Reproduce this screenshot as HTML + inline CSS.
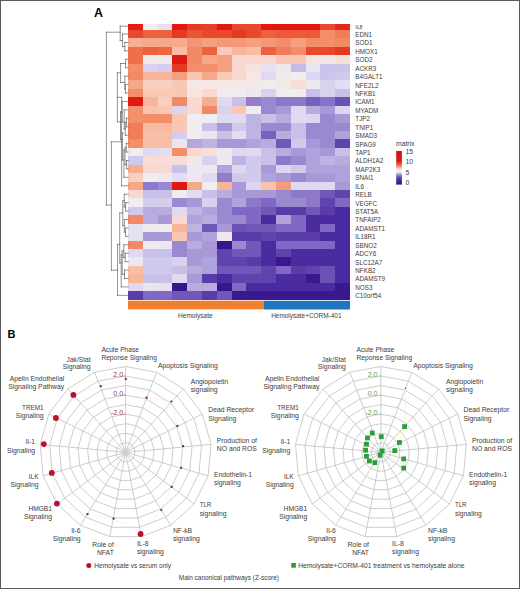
<!DOCTYPE html>
<html><head><meta charset="utf-8"><title>Figure</title>
<style>
html,body{margin:0;padding:0;background:#fff;}
body{width:520px;height:589px;overflow:hidden;font-family:"Liberation Sans", sans-serif;}
#fig{position:relative;width:520px;height:589px;box-sizing:border-box;border:1px solid #5a5a5a;overflow:hidden;}
svg{position:absolute;left:-1px;top:-1px;}
svg text{font-family:"Liberation Sans", sans-serif;}
</style></head>
<body><div id="fig"><svg width="520" height="589" viewBox="0 0 520 589"><g shape-rendering="crispEdges"><rect x="128.00" y="24.00" width="15.10" height="6.10" fill="#e11f14"/><rect x="142.80" y="24.00" width="15.10" height="6.10" fill="#f0ecf0"/><rect x="157.60" y="24.00" width="15.10" height="6.10" fill="#e6e1f0"/><rect x="172.40" y="24.00" width="15.10" height="6.10" fill="#e01810"/><rect x="187.20" y="24.00" width="15.10" height="6.10" fill="#e53a22"/><rect x="202.00" y="24.00" width="15.10" height="6.10" fill="#e63f26"/><rect x="216.80" y="24.00" width="15.10" height="6.10" fill="#e01810"/><rect x="231.60" y="24.00" width="15.10" height="6.10" fill="#e8482c"/><rect x="246.40" y="24.00" width="15.10" height="6.10" fill="#e8482c"/><rect x="261.20" y="24.00" width="15.10" height="6.10" fill="#e01810"/><rect x="276.00" y="24.00" width="15.10" height="6.10" fill="#e01810"/><rect x="290.80" y="24.00" width="15.10" height="6.10" fill="#e01810"/><rect x="305.60" y="24.00" width="15.10" height="6.10" fill="#e01810"/><rect x="320.40" y="24.00" width="15.10" height="6.10" fill="#e8482c"/><rect x="335.20" y="24.00" width="15.10" height="6.10" fill="#e22919"/><rect x="128.00" y="29.80" width="15.10" height="8.73" fill="#e8482c"/><rect x="142.80" y="29.80" width="15.10" height="8.73" fill="#ec6240"/><rect x="157.60" y="29.80" width="15.10" height="8.73" fill="#ec6240"/><rect x="172.40" y="29.80" width="15.10" height="8.73" fill="#e53a22"/><rect x="187.20" y="29.80" width="15.10" height="8.73" fill="#ea5535"/><rect x="202.00" y="29.80" width="15.10" height="8.73" fill="#e8482c"/><rect x="216.80" y="29.80" width="15.10" height="8.73" fill="#e8482c"/><rect x="231.60" y="29.80" width="15.10" height="8.73" fill="#e53a22"/><rect x="246.40" y="29.80" width="15.10" height="8.73" fill="#e8482c"/><rect x="261.20" y="29.80" width="15.10" height="8.73" fill="#ec6240"/><rect x="276.00" y="29.80" width="15.10" height="8.73" fill="#eb5a39"/><rect x="290.80" y="29.80" width="15.10" height="8.73" fill="#eb5a39"/><rect x="305.60" y="29.80" width="15.10" height="8.73" fill="#eb5a39"/><rect x="320.40" y="29.80" width="15.10" height="8.73" fill="#f38d6a"/><rect x="335.20" y="29.80" width="15.10" height="8.73" fill="#f07c58"/><rect x="128.00" y="38.23" width="15.10" height="8.73" fill="#f7b093"/><rect x="142.80" y="38.23" width="15.10" height="8.73" fill="#f6a88a"/><rect x="157.60" y="38.23" width="15.10" height="8.73" fill="#f6a88a"/><rect x="172.40" y="38.23" width="15.10" height="8.73" fill="#f6ab8d"/><rect x="187.20" y="38.23" width="15.10" height="8.73" fill="#f49472"/><rect x="202.00" y="38.23" width="15.10" height="8.73" fill="#f59f80"/><rect x="216.80" y="38.23" width="15.10" height="8.73" fill="#f49878"/><rect x="231.60" y="38.23" width="15.10" height="8.73" fill="#f49878"/><rect x="246.40" y="38.23" width="15.10" height="8.73" fill="#f59f80"/><rect x="261.20" y="38.23" width="15.10" height="8.73" fill="#f49878"/><rect x="276.00" y="38.23" width="15.10" height="8.73" fill="#f38d6a"/><rect x="290.80" y="38.23" width="15.10" height="8.73" fill="#f59f80"/><rect x="305.60" y="38.23" width="15.10" height="8.73" fill="#f38d6a"/><rect x="320.40" y="38.23" width="15.10" height="8.73" fill="#f38d6a"/><rect x="335.20" y="38.23" width="15.10" height="8.73" fill="#f28965"/><rect x="128.00" y="46.66" width="15.10" height="8.73" fill="#ef6f4b"/><rect x="142.80" y="46.66" width="15.10" height="8.73" fill="#ec6240"/><rect x="157.60" y="46.66" width="15.10" height="8.73" fill="#ee6744"/><rect x="172.40" y="46.66" width="15.10" height="8.73" fill="#f8bca3"/><rect x="187.20" y="46.66" width="15.10" height="8.73" fill="#f28965"/><rect x="202.00" y="46.66" width="15.10" height="8.73" fill="#ec6240"/><rect x="216.80" y="46.66" width="15.10" height="8.73" fill="#f9cab9"/><rect x="231.60" y="46.66" width="15.10" height="8.73" fill="#f7b599"/><rect x="246.40" y="46.66" width="15.10" height="8.73" fill="#f8bca3"/><rect x="261.20" y="46.66" width="15.10" height="8.73" fill="#ec6240"/><rect x="276.00" y="46.66" width="15.10" height="8.73" fill="#f07c58"/><rect x="290.80" y="46.66" width="15.10" height="8.73" fill="#f38d6a"/><rect x="305.60" y="46.66" width="15.10" height="8.73" fill="#e8482c"/><rect x="320.40" y="46.66" width="15.10" height="8.73" fill="#e8482c"/><rect x="335.20" y="46.66" width="15.10" height="8.73" fill="#e53a22"/><rect x="128.00" y="55.09" width="15.10" height="8.73" fill="#ef6f4b"/><rect x="142.80" y="55.09" width="15.10" height="8.73" fill="#f2e9ea"/><rect x="157.60" y="55.09" width="15.10" height="8.73" fill="#f1eaec"/><rect x="172.40" y="55.09" width="15.10" height="8.73" fill="#e01810"/><rect x="187.20" y="55.09" width="15.10" height="8.73" fill="#f28965"/><rect x="202.00" y="55.09" width="15.10" height="8.73" fill="#f6a88a"/><rect x="216.80" y="55.09" width="15.10" height="8.73" fill="#f59f80"/><rect x="231.60" y="55.09" width="15.10" height="8.73" fill="#f8d8d0"/><rect x="246.40" y="55.09" width="15.10" height="8.73" fill="#f8d8d0"/><rect x="261.20" y="55.09" width="15.10" height="8.73" fill="#f8d8d0"/><rect x="276.00" y="55.09" width="15.10" height="8.73" fill="#f9c7b3"/><rect x="290.80" y="55.09" width="15.10" height="8.73" fill="#f9c7b3"/><rect x="305.60" y="55.09" width="15.10" height="8.73" fill="#f6e4e0"/><rect x="320.40" y="55.09" width="15.10" height="8.73" fill="#f4e6e4"/><rect x="335.20" y="55.09" width="15.10" height="8.73" fill="#f7e0da"/><rect x="128.00" y="63.52" width="15.10" height="8.73" fill="#f38d6a"/><rect x="142.80" y="63.52" width="15.10" height="8.73" fill="#d8d2ef"/><rect x="157.60" y="63.52" width="15.10" height="8.73" fill="#d4cded"/><rect x="172.40" y="63.52" width="15.10" height="8.73" fill="#e53a22"/><rect x="187.20" y="63.52" width="15.10" height="8.73" fill="#f38d6a"/><rect x="202.00" y="63.52" width="15.10" height="8.73" fill="#f38d6a"/><rect x="216.80" y="63.52" width="15.10" height="8.73" fill="#f59f80"/><rect x="231.60" y="63.52" width="15.10" height="8.73" fill="#f8d8d0"/><rect x="246.40" y="63.52" width="15.10" height="8.73" fill="#f7e2dc"/><rect x="261.20" y="63.52" width="15.10" height="8.73" fill="#e6e1f0"/><rect x="276.00" y="63.52" width="15.10" height="8.73" fill="#ede8f0"/><rect x="290.80" y="63.52" width="15.10" height="8.73" fill="#c5bce6"/><rect x="305.60" y="63.52" width="15.10" height="8.73" fill="#e9e5f0"/><rect x="320.40" y="63.52" width="15.10" height="8.73" fill="#ccc4ea"/><rect x="335.20" y="63.52" width="15.10" height="8.73" fill="#ccc4ea"/><rect x="128.00" y="71.95" width="15.10" height="8.73" fill="#f28965"/><rect x="142.80" y="71.95" width="15.10" height="8.73" fill="#f7b599"/><rect x="157.60" y="71.95" width="15.10" height="8.73" fill="#f7b599"/><rect x="172.40" y="71.95" width="15.10" height="8.73" fill="#f59f80"/><rect x="187.20" y="71.95" width="15.10" height="8.73" fill="#f9c7b3"/><rect x="202.00" y="71.95" width="15.10" height="8.73" fill="#f6a88a"/><rect x="216.80" y="71.95" width="15.10" height="8.73" fill="#f9cab9"/><rect x="231.60" y="71.95" width="15.10" height="8.73" fill="#f8d8d0"/><rect x="246.40" y="71.95" width="15.10" height="8.73" fill="#f4e7e6"/><rect x="261.20" y="71.95" width="15.10" height="8.73" fill="#dfdaf1"/><rect x="276.00" y="71.95" width="15.10" height="8.73" fill="#f1eaec"/><rect x="290.80" y="71.95" width="15.10" height="8.73" fill="#f0ecf0"/><rect x="305.60" y="71.95" width="15.10" height="8.73" fill="#dcd6f1"/><rect x="320.40" y="71.95" width="15.10" height="8.73" fill="#ccc4ea"/><rect x="335.20" y="71.95" width="15.10" height="8.73" fill="#d0c9ec"/><rect x="128.00" y="80.38" width="15.10" height="8.73" fill="#f6a88a"/><rect x="142.80" y="80.38" width="15.10" height="8.73" fill="#f8d0c2"/><rect x="157.60" y="80.38" width="15.10" height="8.73" fill="#f8d0c2"/><rect x="172.40" y="80.38" width="15.10" height="8.73" fill="#f9c7b3"/><rect x="187.20" y="80.38" width="15.10" height="8.73" fill="#f4e7e6"/><rect x="202.00" y="80.38" width="15.10" height="8.73" fill="#f4e7e6"/><rect x="216.80" y="80.38" width="15.10" height="8.73" fill="#f4e7e6"/><rect x="231.60" y="80.38" width="15.10" height="8.73" fill="#f4e7e6"/><rect x="246.40" y="80.38" width="15.10" height="8.73" fill="#f2e9ea"/><rect x="261.20" y="80.38" width="15.10" height="8.73" fill="#f1ebee"/><rect x="276.00" y="80.38" width="15.10" height="8.73" fill="#f3e8e8"/><rect x="290.80" y="80.38" width="15.10" height="8.73" fill="#f8ddd6"/><rect x="305.60" y="80.38" width="15.10" height="8.73" fill="#ede8f0"/><rect x="320.40" y="80.38" width="15.10" height="8.73" fill="#d8d2ef"/><rect x="335.20" y="80.38" width="15.10" height="8.73" fill="#e3ddf1"/><rect x="128.00" y="88.81" width="15.10" height="8.73" fill="#f38d6a"/><rect x="142.80" y="88.81" width="15.10" height="8.73" fill="#f9c7b3"/><rect x="157.60" y="88.81" width="15.10" height="8.73" fill="#f9c7b3"/><rect x="172.40" y="88.81" width="15.10" height="8.73" fill="#f9c7b3"/><rect x="187.20" y="88.81" width="15.10" height="8.73" fill="#f6e4e0"/><rect x="202.00" y="88.81" width="15.10" height="8.73" fill="#f8d8d0"/><rect x="216.80" y="88.81" width="15.10" height="8.73" fill="#f0ecf0"/><rect x="231.60" y="88.81" width="15.10" height="8.73" fill="#f0ecf0"/><rect x="246.40" y="88.81" width="15.10" height="8.73" fill="#ede8f0"/><rect x="261.20" y="88.81" width="15.10" height="8.73" fill="#d8d2ef"/><rect x="276.00" y="88.81" width="15.10" height="8.73" fill="#f0ecf0"/><rect x="290.80" y="88.81" width="15.10" height="8.73" fill="#f0ecf0"/><rect x="305.60" y="88.81" width="15.10" height="8.73" fill="#c8c0e8"/><rect x="320.40" y="88.81" width="15.10" height="8.73" fill="#d8d2ef"/><rect x="335.20" y="88.81" width="15.10" height="8.73" fill="#c8c0e8"/><rect x="128.00" y="97.24" width="15.10" height="8.73" fill="#e01810"/><rect x="142.80" y="97.24" width="15.10" height="8.73" fill="#f7b599"/><rect x="157.60" y="97.24" width="15.10" height="8.73" fill="#f8d0c2"/><rect x="172.40" y="97.24" width="15.10" height="8.73" fill="#f28965"/><rect x="187.20" y="97.24" width="15.10" height="8.73" fill="#f8dad2"/><rect x="202.00" y="97.24" width="15.10" height="8.73" fill="#f7ad8f"/><rect x="216.80" y="97.24" width="15.10" height="8.73" fill="#dfdaf1"/><rect x="231.60" y="97.24" width="15.10" height="8.73" fill="#c8c0e8"/><rect x="246.40" y="97.24" width="15.10" height="8.73" fill="#917dcc"/><rect x="261.20" y="97.24" width="15.10" height="8.73" fill="#9a88d0"/><rect x="276.00" y="97.24" width="15.10" height="8.73" fill="#8d78ca"/><rect x="290.80" y="97.24" width="15.10" height="8.73" fill="#8d78ca"/><rect x="305.60" y="97.24" width="15.10" height="8.73" fill="#7860be"/><rect x="320.40" y="97.24" width="15.10" height="8.73" fill="#8973c8"/><rect x="335.20" y="97.24" width="15.10" height="8.73" fill="#6a51b4"/><rect x="128.00" y="105.67" width="15.10" height="8.73" fill="#f3906d"/><rect x="142.80" y="105.67" width="15.10" height="8.73" fill="#f9c2ad"/><rect x="157.60" y="105.67" width="15.10" height="8.73" fill="#f9c7b3"/><rect x="172.40" y="105.67" width="15.10" height="8.73" fill="#dcd6f1"/><rect x="187.20" y="105.67" width="15.10" height="8.73" fill="#f8d8d0"/><rect x="202.00" y="105.67" width="15.10" height="8.73" fill="#f28965"/><rect x="216.80" y="105.67" width="15.10" height="8.73" fill="#d8d2ef"/><rect x="231.60" y="105.67" width="15.10" height="8.73" fill="#f9c7b3"/><rect x="246.40" y="105.67" width="15.10" height="8.73" fill="#f0ecf0"/><rect x="261.20" y="105.67" width="15.10" height="8.73" fill="#9a88d0"/><rect x="276.00" y="105.67" width="15.10" height="8.73" fill="#a898d8"/><rect x="290.80" y="105.67" width="15.10" height="8.73" fill="#dfdaf1"/><rect x="305.60" y="105.67" width="15.10" height="8.73" fill="#b8acdf"/><rect x="320.40" y="105.67" width="15.10" height="8.73" fill="#a898d8"/><rect x="335.20" y="105.67" width="15.10" height="8.73" fill="#dcd6f1"/><rect x="128.00" y="114.10" width="15.10" height="8.73" fill="#f3906d"/><rect x="142.80" y="114.10" width="15.10" height="8.73" fill="#f38d6a"/><rect x="157.60" y="114.10" width="15.10" height="8.73" fill="#f38d6a"/><rect x="172.40" y="114.10" width="15.10" height="8.73" fill="#f9c7b3"/><rect x="187.20" y="114.10" width="15.10" height="8.73" fill="#f0ecf0"/><rect x="202.00" y="114.10" width="15.10" height="8.73" fill="#f0ecf0"/><rect x="216.80" y="114.10" width="15.10" height="8.73" fill="#dfdaf1"/><rect x="231.60" y="114.10" width="15.10" height="8.73" fill="#dfdaf1"/><rect x="246.40" y="114.10" width="15.10" height="8.73" fill="#beb4e3"/><rect x="261.20" y="114.10" width="15.10" height="8.73" fill="#c8c0e8"/><rect x="276.00" y="114.10" width="15.10" height="8.73" fill="#b8acdf"/><rect x="290.80" y="114.10" width="15.10" height="8.73" fill="#dfdaf1"/><rect x="305.60" y="114.10" width="15.10" height="8.73" fill="#dcd6f1"/><rect x="320.40" y="114.10" width="15.10" height="8.73" fill="#9a88d0"/><rect x="335.20" y="114.10" width="15.10" height="8.73" fill="#a898d8"/><rect x="128.00" y="122.53" width="15.10" height="8.73" fill="#f07c58"/><rect x="142.80" y="122.53" width="15.10" height="8.73" fill="#f8b9a0"/><rect x="157.60" y="122.53" width="15.10" height="8.73" fill="#f8b9a0"/><rect x="172.40" y="122.53" width="15.10" height="8.73" fill="#f9c7b3"/><rect x="187.20" y="122.53" width="15.10" height="8.73" fill="#f0ecf0"/><rect x="202.00" y="122.53" width="15.10" height="8.73" fill="#c8c0e8"/><rect x="216.80" y="122.53" width="15.10" height="8.73" fill="#a898d8"/><rect x="231.60" y="122.53" width="15.10" height="8.73" fill="#d0c9ec"/><rect x="246.40" y="122.53" width="15.10" height="8.73" fill="#beb4e3"/><rect x="261.20" y="122.53" width="15.10" height="8.73" fill="#9a88d0"/><rect x="276.00" y="122.53" width="15.10" height="8.73" fill="#9a88d0"/><rect x="290.80" y="122.53" width="15.10" height="8.73" fill="#c8c0e8"/><rect x="305.60" y="122.53" width="15.10" height="8.73" fill="#9a88d0"/><rect x="320.40" y="122.53" width="15.10" height="8.73" fill="#9a88d0"/><rect x="335.20" y="122.53" width="15.10" height="8.73" fill="#9a88d0"/><rect x="128.00" y="130.96" width="15.10" height="8.73" fill="#f07c58"/><rect x="142.80" y="130.96" width="15.10" height="8.73" fill="#f8bea6"/><rect x="157.60" y="130.96" width="15.10" height="8.73" fill="#f8bea6"/><rect x="172.40" y="130.96" width="15.10" height="8.73" fill="#d4cded"/><rect x="187.20" y="130.96" width="15.10" height="8.73" fill="#f0ecf0"/><rect x="202.00" y="130.96" width="15.10" height="8.73" fill="#e9e5f0"/><rect x="216.80" y="130.96" width="15.10" height="8.73" fill="#c8c0e8"/><rect x="231.60" y="130.96" width="15.10" height="8.73" fill="#e3ddf1"/><rect x="246.40" y="130.96" width="15.10" height="8.73" fill="#beb4e3"/><rect x="261.20" y="130.96" width="15.10" height="8.73" fill="#7860be"/><rect x="276.00" y="130.96" width="15.10" height="8.73" fill="#b8acdf"/><rect x="290.80" y="130.96" width="15.10" height="8.73" fill="#c8c0e8"/><rect x="305.60" y="130.96" width="15.10" height="8.73" fill="#9a88d0"/><rect x="320.40" y="130.96" width="15.10" height="8.73" fill="#9a88d0"/><rect x="335.20" y="130.96" width="15.10" height="8.73" fill="#b0a2dc"/><rect x="128.00" y="139.39" width="15.10" height="8.73" fill="#f38d6a"/><rect x="142.80" y="139.39" width="15.10" height="8.73" fill="#f8bea6"/><rect x="157.60" y="139.39" width="15.10" height="8.73" fill="#f8bea6"/><rect x="172.40" y="139.39" width="15.10" height="8.73" fill="#e9e5f0"/><rect x="187.20" y="139.39" width="15.10" height="8.73" fill="#b4a7dd"/><rect x="202.00" y="139.39" width="15.10" height="8.73" fill="#beb4e3"/><rect x="216.80" y="139.39" width="15.10" height="8.73" fill="#a898d8"/><rect x="231.60" y="139.39" width="15.10" height="8.73" fill="#a898d8"/><rect x="246.40" y="139.39" width="15.10" height="8.73" fill="#b0a2dc"/><rect x="261.20" y="139.39" width="15.10" height="8.73" fill="#b8acdf"/><rect x="276.00" y="139.39" width="15.10" height="8.73" fill="#7058b8"/><rect x="290.80" y="139.39" width="15.10" height="8.73" fill="#d0c9ec"/><rect x="305.60" y="139.39" width="15.10" height="8.73" fill="#a898d8"/><rect x="320.40" y="139.39" width="15.10" height="8.73" fill="#9a88d0"/><rect x="335.20" y="139.39" width="15.10" height="8.73" fill="#6043ac"/><rect x="128.00" y="147.82" width="15.10" height="8.73" fill="#f0ecf0"/><rect x="142.80" y="147.82" width="15.10" height="8.73" fill="#dfdaf1"/><rect x="157.60" y="147.82" width="15.10" height="8.73" fill="#e3ddf1"/><rect x="172.40" y="147.82" width="15.10" height="8.73" fill="#f38d6a"/><rect x="187.20" y="147.82" width="15.10" height="8.73" fill="#f8d8d0"/><rect x="202.00" y="147.82" width="15.10" height="8.73" fill="#f7e0da"/><rect x="216.80" y="147.82" width="15.10" height="8.73" fill="#ede8f0"/><rect x="231.60" y="147.82" width="15.10" height="8.73" fill="#dfdaf1"/><rect x="246.40" y="147.82" width="15.10" height="8.73" fill="#dfdaf1"/><rect x="261.20" y="147.82" width="15.10" height="8.73" fill="#c8c0e8"/><rect x="276.00" y="147.82" width="15.10" height="8.73" fill="#b8acdf"/><rect x="290.80" y="147.82" width="15.10" height="8.73" fill="#a898d8"/><rect x="305.60" y="147.82" width="15.10" height="8.73" fill="#b0a2dc"/><rect x="320.40" y="147.82" width="15.10" height="8.73" fill="#a898d8"/><rect x="335.20" y="147.82" width="15.10" height="8.73" fill="#c8c0e8"/><rect x="128.00" y="156.25" width="15.10" height="8.73" fill="#d0c9ec"/><rect x="142.80" y="156.25" width="15.10" height="8.73" fill="#f8ddd6"/><rect x="157.60" y="156.25" width="15.10" height="8.73" fill="#f8ddd6"/><rect x="172.40" y="156.25" width="15.10" height="8.73" fill="#f8ddd6"/><rect x="187.20" y="156.25" width="15.10" height="8.73" fill="#f3e8e8"/><rect x="202.00" y="156.25" width="15.10" height="8.73" fill="#d8d2ef"/><rect x="216.80" y="156.25" width="15.10" height="8.73" fill="#ede8f0"/><rect x="231.60" y="156.25" width="15.10" height="8.73" fill="#beb4e3"/><rect x="246.40" y="156.25" width="15.10" height="8.73" fill="#d0c9ec"/><rect x="261.20" y="156.25" width="15.10" height="8.73" fill="#c8c0e8"/><rect x="276.00" y="156.25" width="15.10" height="8.73" fill="#8d78ca"/><rect x="290.80" y="156.25" width="15.10" height="8.73" fill="#9a88d0"/><rect x="305.60" y="156.25" width="15.10" height="8.73" fill="#b0a2dc"/><rect x="320.40" y="156.25" width="15.10" height="8.73" fill="#beb4e3"/><rect x="335.20" y="156.25" width="15.10" height="8.73" fill="#b8acdf"/><rect x="128.00" y="164.68" width="15.10" height="8.73" fill="#f7ad8f"/><rect x="142.80" y="164.68" width="15.10" height="8.73" fill="#f8d8d0"/><rect x="157.60" y="164.68" width="15.10" height="8.73" fill="#f8d8d0"/><rect x="172.40" y="164.68" width="15.10" height="8.73" fill="#c8c0e8"/><rect x="187.20" y="164.68" width="15.10" height="8.73" fill="#ede8f0"/><rect x="202.00" y="164.68" width="15.10" height="8.73" fill="#ede8f0"/><rect x="216.80" y="164.68" width="15.10" height="8.73" fill="#b0a2dc"/><rect x="231.60" y="164.68" width="15.10" height="8.73" fill="#dcd6f1"/><rect x="246.40" y="164.68" width="15.10" height="8.73" fill="#d0c9ec"/><rect x="261.20" y="164.68" width="15.10" height="8.73" fill="#a898d8"/><rect x="276.00" y="164.68" width="15.10" height="8.73" fill="#dcd6f1"/><rect x="290.80" y="164.68" width="15.10" height="8.73" fill="#d0c9ec"/><rect x="305.60" y="164.68" width="15.10" height="8.73" fill="#b0a2dc"/><rect x="320.40" y="164.68" width="15.10" height="8.73" fill="#b0a2dc"/><rect x="335.20" y="164.68" width="15.10" height="8.73" fill="#b0a2dc"/><rect x="128.00" y="173.11" width="15.10" height="8.73" fill="#f8d0c2"/><rect x="142.80" y="173.11" width="15.10" height="8.73" fill="#f0ecf0"/><rect x="157.60" y="173.11" width="15.10" height="8.73" fill="#ede8f0"/><rect x="172.40" y="173.11" width="15.10" height="8.73" fill="#e3ddf1"/><rect x="187.20" y="173.11" width="15.10" height="8.73" fill="#ede8f0"/><rect x="202.00" y="173.11" width="15.10" height="8.73" fill="#dfdaf1"/><rect x="216.80" y="173.11" width="15.10" height="8.73" fill="#917dcc"/><rect x="231.60" y="173.11" width="15.10" height="8.73" fill="#d0c9ec"/><rect x="246.40" y="173.11" width="15.10" height="8.73" fill="#d0c9ec"/><rect x="261.20" y="173.11" width="15.10" height="8.73" fill="#b0a2dc"/><rect x="276.00" y="173.11" width="15.10" height="8.73" fill="#a898d8"/><rect x="290.80" y="173.11" width="15.10" height="8.73" fill="#9a88d0"/><rect x="305.60" y="173.11" width="15.10" height="8.73" fill="#a898d8"/><rect x="320.40" y="173.11" width="15.10" height="8.73" fill="#a898d8"/><rect x="335.20" y="173.11" width="15.10" height="8.73" fill="#b0a2dc"/><rect x="128.00" y="181.54" width="15.10" height="8.73" fill="#f6a88a"/><rect x="142.80" y="181.54" width="15.10" height="8.73" fill="#8d78ca"/><rect x="157.60" y="181.54" width="15.10" height="8.73" fill="#9a88d0"/><rect x="172.40" y="181.54" width="15.10" height="8.73" fill="#e01810"/><rect x="187.20" y="181.54" width="15.10" height="8.73" fill="#f6a88a"/><rect x="202.00" y="181.54" width="15.10" height="8.73" fill="#f0ecf0"/><rect x="216.80" y="181.54" width="15.10" height="8.73" fill="#f7b599"/><rect x="231.60" y="181.54" width="15.10" height="8.73" fill="#a898d8"/><rect x="246.40" y="181.54" width="15.10" height="8.73" fill="#dcd6f1"/><rect x="261.20" y="181.54" width="15.10" height="8.73" fill="#f9c2ad"/><rect x="276.00" y="181.54" width="15.10" height="8.73" fill="#f49b7b"/><rect x="290.80" y="181.54" width="15.10" height="8.73" fill="#dfdaf1"/><rect x="305.60" y="181.54" width="15.10" height="8.73" fill="#dfdaf1"/><rect x="320.40" y="181.54" width="15.10" height="8.73" fill="#dfdaf1"/><rect x="335.20" y="181.54" width="15.10" height="8.73" fill="#a898d8"/><rect x="128.00" y="189.97" width="15.10" height="8.73" fill="#f8d8d0"/><rect x="142.80" y="189.97" width="15.10" height="8.73" fill="#c8c0e8"/><rect x="157.60" y="189.97" width="15.10" height="8.73" fill="#c8c0e8"/><rect x="172.40" y="189.97" width="15.10" height="8.73" fill="#f0ecf0"/><rect x="187.20" y="189.97" width="15.10" height="8.73" fill="#e3ddf1"/><rect x="202.00" y="189.97" width="15.10" height="8.73" fill="#c8c0e8"/><rect x="216.80" y="189.97" width="15.10" height="8.73" fill="#b8acdf"/><rect x="231.60" y="189.97" width="15.10" height="8.73" fill="#a898d8"/><rect x="246.40" y="189.97" width="15.10" height="8.73" fill="#a898d8"/><rect x="261.20" y="189.97" width="15.10" height="8.73" fill="#a898d8"/><rect x="276.00" y="189.97" width="15.10" height="8.73" fill="#9a88d0"/><rect x="290.80" y="189.97" width="15.10" height="8.73" fill="#8d78ca"/><rect x="305.60" y="189.97" width="15.10" height="8.73" fill="#8d78ca"/><rect x="320.40" y="189.97" width="15.10" height="8.73" fill="#7058b8"/><rect x="335.20" y="189.97" width="15.10" height="8.73" fill="#6043ac"/><rect x="128.00" y="198.40" width="15.10" height="8.73" fill="#f0ecf0"/><rect x="142.80" y="198.40" width="15.10" height="8.73" fill="#d4cded"/><rect x="157.60" y="198.40" width="15.10" height="8.73" fill="#d4cded"/><rect x="172.40" y="198.40" width="15.10" height="8.73" fill="#9a88d0"/><rect x="187.20" y="198.40" width="15.10" height="8.73" fill="#a898d8"/><rect x="202.00" y="198.40" width="15.10" height="8.73" fill="#d8d2ef"/><rect x="216.80" y="198.40" width="15.10" height="8.73" fill="#9a88d0"/><rect x="231.60" y="198.40" width="15.10" height="8.73" fill="#b0a2dc"/><rect x="246.40" y="198.40" width="15.10" height="8.73" fill="#8d78ca"/><rect x="261.20" y="198.40" width="15.10" height="8.73" fill="#8068c4"/><rect x="276.00" y="198.40" width="15.10" height="8.73" fill="#9a88d0"/><rect x="290.80" y="198.40" width="15.10" height="8.73" fill="#9a88d0"/><rect x="305.60" y="198.40" width="15.10" height="8.73" fill="#8d78ca"/><rect x="320.40" y="198.40" width="15.10" height="8.73" fill="#6043ac"/><rect x="335.20" y="198.40" width="15.10" height="8.73" fill="#8068c4"/><rect x="128.00" y="206.83" width="15.10" height="8.73" fill="#d0c9ec"/><rect x="142.80" y="206.83" width="15.10" height="8.73" fill="#b8acdf"/><rect x="157.60" y="206.83" width="15.10" height="8.73" fill="#b8acdf"/><rect x="172.40" y="206.83" width="15.10" height="8.73" fill="#dfdaf1"/><rect x="187.20" y="206.83" width="15.10" height="8.73" fill="#beb4e3"/><rect x="202.00" y="206.83" width="15.10" height="8.73" fill="#b0a2dc"/><rect x="216.80" y="206.83" width="15.10" height="8.73" fill="#9a88d0"/><rect x="231.60" y="206.83" width="15.10" height="8.73" fill="#8068c4"/><rect x="246.40" y="206.83" width="15.10" height="8.73" fill="#8068c4"/><rect x="261.20" y="206.83" width="15.10" height="8.73" fill="#7058b8"/><rect x="276.00" y="206.83" width="15.10" height="8.73" fill="#5a3ca8"/><rect x="290.80" y="206.83" width="15.10" height="8.73" fill="#5a3ca8"/><rect x="305.60" y="206.83" width="15.10" height="8.73" fill="#7058b8"/><rect x="320.40" y="206.83" width="15.10" height="8.73" fill="#5a3ca8"/><rect x="335.20" y="206.83" width="15.10" height="8.73" fill="#4a2ca0"/><rect x="128.00" y="215.26" width="15.10" height="8.73" fill="#f28965"/><rect x="142.80" y="215.26" width="15.10" height="8.73" fill="#b8acdf"/><rect x="157.60" y="215.26" width="15.10" height="8.73" fill="#a898d8"/><rect x="172.40" y="215.26" width="15.10" height="8.73" fill="#f8d8d0"/><rect x="187.20" y="215.26" width="15.10" height="8.73" fill="#b0a2dc"/><rect x="202.00" y="215.26" width="15.10" height="8.73" fill="#b8acdf"/><rect x="216.80" y="215.26" width="15.10" height="8.73" fill="#9a88d0"/><rect x="231.60" y="215.26" width="15.10" height="8.73" fill="#9a88d0"/><rect x="246.40" y="215.26" width="15.10" height="8.73" fill="#8068c4"/><rect x="261.20" y="215.26" width="15.10" height="8.73" fill="#4a2ca0"/><rect x="276.00" y="215.26" width="15.10" height="8.73" fill="#b0a2dc"/><rect x="290.80" y="215.26" width="15.10" height="8.73" fill="#8068c4"/><rect x="305.60" y="215.26" width="15.10" height="8.73" fill="#4a2ca0"/><rect x="320.40" y="215.26" width="15.10" height="8.73" fill="#4a2ca0"/><rect x="335.20" y="215.26" width="15.10" height="8.73" fill="#4a2ca0"/><rect x="128.00" y="223.69" width="15.10" height="8.73" fill="#e6e1f0"/><rect x="142.80" y="223.69" width="15.10" height="8.73" fill="#f1eaec"/><rect x="157.60" y="223.69" width="15.10" height="8.73" fill="#f0ecf0"/><rect x="172.40" y="223.69" width="15.10" height="8.73" fill="#f7b599"/><rect x="187.20" y="223.69" width="15.10" height="8.73" fill="#beb4e3"/><rect x="202.00" y="223.69" width="15.10" height="8.73" fill="#7058b8"/><rect x="216.80" y="223.69" width="15.10" height="8.73" fill="#a898d8"/><rect x="231.60" y="223.69" width="15.10" height="8.73" fill="#6a51b4"/><rect x="246.40" y="223.69" width="15.10" height="8.73" fill="#7058b8"/><rect x="261.20" y="223.69" width="15.10" height="8.73" fill="#7058b8"/><rect x="276.00" y="223.69" width="15.10" height="8.73" fill="#8068c4"/><rect x="290.80" y="223.69" width="15.10" height="8.73" fill="#8068c4"/><rect x="305.60" y="223.69" width="15.10" height="8.73" fill="#4a2ca0"/><rect x="320.40" y="223.69" width="15.10" height="8.73" fill="#8068c4"/><rect x="335.20" y="223.69" width="15.10" height="8.73" fill="#4a2ca0"/><rect x="128.00" y="232.12" width="15.10" height="8.73" fill="#e6e1f0"/><rect x="142.80" y="232.12" width="15.10" height="8.73" fill="#a898d8"/><rect x="157.60" y="232.12" width="15.10" height="8.73" fill="#a898d8"/><rect x="172.40" y="232.12" width="15.10" height="8.73" fill="#f9c7b3"/><rect x="187.20" y="232.12" width="15.10" height="8.73" fill="#a898d8"/><rect x="202.00" y="232.12" width="15.10" height="8.73" fill="#b0a2dc"/><rect x="216.80" y="232.12" width="15.10" height="8.73" fill="#ede8f0"/><rect x="231.60" y="232.12" width="15.10" height="8.73" fill="#5a3ca8"/><rect x="246.40" y="232.12" width="15.10" height="8.73" fill="#5a3ca8"/><rect x="261.20" y="232.12" width="15.10" height="8.73" fill="#6043ac"/><rect x="276.00" y="232.12" width="15.10" height="8.73" fill="#5a3ca8"/><rect x="290.80" y="232.12" width="15.10" height="8.73" fill="#5a3ca8"/><rect x="305.60" y="232.12" width="15.10" height="8.73" fill="#5a3ca8"/><rect x="320.40" y="232.12" width="15.10" height="8.73" fill="#4a2ca0"/><rect x="335.20" y="232.12" width="15.10" height="8.73" fill="#4a2ca0"/><rect x="128.00" y="240.55" width="15.10" height="8.73" fill="#f28965"/><rect x="142.80" y="240.55" width="15.10" height="8.73" fill="#f1eaec"/><rect x="157.60" y="240.55" width="15.10" height="8.73" fill="#ede8f0"/><rect x="172.40" y="240.55" width="15.10" height="8.73" fill="#9a88d0"/><rect x="187.20" y="240.55" width="15.10" height="8.73" fill="#b8acdf"/><rect x="202.00" y="240.55" width="15.10" height="8.73" fill="#a898d8"/><rect x="216.80" y="240.55" width="15.10" height="8.73" fill="#34168d"/><rect x="231.60" y="240.55" width="15.10" height="8.73" fill="#9a88d0"/><rect x="246.40" y="240.55" width="15.10" height="8.73" fill="#7058b8"/><rect x="261.20" y="240.55" width="15.10" height="8.73" fill="#4a2ca0"/><rect x="276.00" y="240.55" width="15.10" height="8.73" fill="#8068c4"/><rect x="290.80" y="240.55" width="15.10" height="8.73" fill="#8068c4"/><rect x="305.60" y="240.55" width="15.10" height="8.73" fill="#8068c4"/><rect x="320.40" y="240.55" width="15.10" height="8.73" fill="#8068c4"/><rect x="335.20" y="240.55" width="15.10" height="8.73" fill="#4a2ca0"/><rect x="128.00" y="248.98" width="15.10" height="8.73" fill="#dfdaf1"/><rect x="142.80" y="248.98" width="15.10" height="8.73" fill="#c8c0e8"/><rect x="157.60" y="248.98" width="15.10" height="8.73" fill="#c8c0e8"/><rect x="172.40" y="248.98" width="15.10" height="8.73" fill="#9a88d0"/><rect x="187.20" y="248.98" width="15.10" height="8.73" fill="#a898d8"/><rect x="202.00" y="248.98" width="15.10" height="8.73" fill="#a898d8"/><rect x="216.80" y="248.98" width="15.10" height="8.73" fill="#6043ac"/><rect x="231.60" y="248.98" width="15.10" height="8.73" fill="#7058b8"/><rect x="246.40" y="248.98" width="15.10" height="8.73" fill="#7058b8"/><rect x="261.20" y="248.98" width="15.10" height="8.73" fill="#4a2ca0"/><rect x="276.00" y="248.98" width="15.10" height="8.73" fill="#6043ac"/><rect x="290.80" y="248.98" width="15.10" height="8.73" fill="#4a2ca0"/><rect x="305.60" y="248.98" width="15.10" height="8.73" fill="#4a2ca0"/><rect x="320.40" y="248.98" width="15.10" height="8.73" fill="#4a2ca0"/><rect x="335.20" y="248.98" width="15.10" height="8.73" fill="#4a2ca0"/><rect x="128.00" y="257.41" width="15.10" height="8.73" fill="#ede8f0"/><rect x="142.80" y="257.41" width="15.10" height="8.73" fill="#d0c9ec"/><rect x="157.60" y="257.41" width="15.10" height="8.73" fill="#d0c9ec"/><rect x="172.40" y="257.41" width="15.10" height="8.73" fill="#d8d2ef"/><rect x="187.20" y="257.41" width="15.10" height="8.73" fill="#a898d8"/><rect x="202.00" y="257.41" width="15.10" height="8.73" fill="#b0a2dc"/><rect x="216.80" y="257.41" width="15.10" height="8.73" fill="#6043ac"/><rect x="231.60" y="257.41" width="15.10" height="8.73" fill="#6043ac"/><rect x="246.40" y="257.41" width="15.10" height="8.73" fill="#5a3ca8"/><rect x="261.20" y="257.41" width="15.10" height="8.73" fill="#4a2ca0"/><rect x="276.00" y="257.41" width="15.10" height="8.73" fill="#3a1890"/><rect x="290.80" y="257.41" width="15.10" height="8.73" fill="#4a2ca0"/><rect x="305.60" y="257.41" width="15.10" height="8.73" fill="#4a2ca0"/><rect x="320.40" y="257.41" width="15.10" height="8.73" fill="#4a2ca0"/><rect x="335.20" y="257.41" width="15.10" height="8.73" fill="#4a2ca0"/><rect x="128.00" y="265.84" width="15.10" height="8.73" fill="#f8bea6"/><rect x="142.80" y="265.84" width="15.10" height="8.73" fill="#d0c9ec"/><rect x="157.60" y="265.84" width="15.10" height="8.73" fill="#d0c9ec"/><rect x="172.40" y="265.84" width="15.10" height="8.73" fill="#c8c0e8"/><rect x="187.20" y="265.84" width="15.10" height="8.73" fill="#b8acdf"/><rect x="202.00" y="265.84" width="15.10" height="8.73" fill="#b0a2dc"/><rect x="216.80" y="265.84" width="15.10" height="8.73" fill="#7058b8"/><rect x="231.60" y="265.84" width="15.10" height="8.73" fill="#7058b8"/><rect x="246.40" y="265.84" width="15.10" height="8.73" fill="#7058b8"/><rect x="261.20" y="265.84" width="15.10" height="8.73" fill="#6043ac"/><rect x="276.00" y="265.84" width="15.10" height="8.73" fill="#8068c4"/><rect x="290.80" y="265.84" width="15.10" height="8.73" fill="#5a3ca8"/><rect x="305.60" y="265.84" width="15.10" height="8.73" fill="#6043ac"/><rect x="320.40" y="265.84" width="15.10" height="8.73" fill="#6a51b4"/><rect x="335.20" y="265.84" width="15.10" height="8.73" fill="#4a2ca0"/><rect x="128.00" y="274.27" width="15.10" height="8.73" fill="#f7b599"/><rect x="142.80" y="274.27" width="15.10" height="8.73" fill="#c8c0e8"/><rect x="157.60" y="274.27" width="15.10" height="8.73" fill="#c8c0e8"/><rect x="172.40" y="274.27" width="15.10" height="8.73" fill="#dfdaf1"/><rect x="187.20" y="274.27" width="15.10" height="8.73" fill="#a898d8"/><rect x="202.00" y="274.27" width="15.10" height="8.73" fill="#5a3ca8"/><rect x="216.80" y="274.27" width="15.10" height="8.73" fill="#4a2ca0"/><rect x="231.60" y="274.27" width="15.10" height="8.73" fill="#6043ac"/><rect x="246.40" y="274.27" width="15.10" height="8.73" fill="#6043ac"/><rect x="261.20" y="274.27" width="15.10" height="8.73" fill="#6043ac"/><rect x="276.00" y="274.27" width="15.10" height="8.73" fill="#4a2ca0"/><rect x="290.80" y="274.27" width="15.10" height="8.73" fill="#4a2ca0"/><rect x="305.60" y="274.27" width="15.10" height="8.73" fill="#3a1890"/><rect x="320.40" y="274.27" width="15.10" height="8.73" fill="#6a51b4"/><rect x="335.20" y="274.27" width="15.10" height="8.73" fill="#4a2ca0"/><rect x="128.00" y="282.70" width="15.10" height="8.73" fill="#dfdaf1"/><rect x="142.80" y="282.70" width="15.10" height="8.73" fill="#e9e5f0"/><rect x="157.60" y="282.70" width="15.10" height="8.73" fill="#e6e1f0"/><rect x="172.40" y="282.70" width="15.10" height="8.73" fill="#34168d"/><rect x="187.20" y="282.70" width="15.10" height="8.73" fill="#b8acdf"/><rect x="202.00" y="282.70" width="15.10" height="8.73" fill="#b8acdf"/><rect x="216.80" y="282.70" width="15.10" height="8.73" fill="#34168d"/><rect x="231.60" y="282.70" width="15.10" height="8.73" fill="#8068c4"/><rect x="246.40" y="282.70" width="15.10" height="8.73" fill="#4a2ca0"/><rect x="261.20" y="282.70" width="15.10" height="8.73" fill="#4a2ca0"/><rect x="276.00" y="282.70" width="15.10" height="8.73" fill="#4a2ca0"/><rect x="290.80" y="282.70" width="15.10" height="8.73" fill="#4a2ca0"/><rect x="305.60" y="282.70" width="15.10" height="8.73" fill="#4a2ca0"/><rect x="320.40" y="282.70" width="15.10" height="8.73" fill="#4a2ca0"/><rect x="335.20" y="282.70" width="15.10" height="8.73" fill="#3a1890"/><rect x="128.00" y="291.13" width="15.10" height="8.73" fill="#5a3ca8"/><rect x="142.80" y="291.13" width="15.10" height="8.73" fill="#8068c4"/><rect x="157.60" y="291.13" width="15.10" height="8.73" fill="#8068c4"/><rect x="172.40" y="291.13" width="15.10" height="8.73" fill="#7058b8"/><rect x="187.20" y="291.13" width="15.10" height="8.73" fill="#7058b8"/><rect x="202.00" y="291.13" width="15.10" height="8.73" fill="#5a3ca8"/><rect x="216.80" y="291.13" width="15.10" height="8.73" fill="#7058b8"/><rect x="231.60" y="291.13" width="15.10" height="8.73" fill="#3a1890"/><rect x="246.40" y="291.13" width="15.10" height="8.73" fill="#3a1890"/><rect x="261.20" y="291.13" width="15.10" height="8.73" fill="#3a1890"/><rect x="276.00" y="291.13" width="15.10" height="8.73" fill="#3a1890"/><rect x="290.80" y="291.13" width="15.10" height="8.73" fill="#3a1890"/><rect x="305.60" y="291.13" width="15.10" height="8.73" fill="#3a1890"/><rect x="320.40" y="291.13" width="15.10" height="8.73" fill="#3a1890"/><rect x="335.20" y="291.13" width="15.10" height="8.73" fill="#3a1890"/></g><rect x="128" y="300.7" width="135.7" height="8.6" fill="#f08030"/><rect x="263.7" y="300.8" width="86.3" height="8.7" fill="#2176c2"/><text x="355.30" y="29.47" font-size="5.20" text-anchor="start" fill="#3c3c3c" font-weight="normal">IL8</text><text x="355.30" y="36.98" font-size="6.30" text-anchor="start" fill="#3c3c3c" font-weight="normal">EDN1</text><text x="355.30" y="45.41" font-size="6.30" text-anchor="start" fill="#3c3c3c" font-weight="normal">SOD1</text><text x="355.30" y="53.84" font-size="6.30" text-anchor="start" fill="#3c3c3c" font-weight="normal">HMOX1</text><text x="355.30" y="62.27" font-size="6.30" text-anchor="start" fill="#3c3c3c" font-weight="normal">SOD2</text><text x="355.30" y="70.70" font-size="6.30" text-anchor="start" fill="#3c3c3c" font-weight="normal">ACKR3</text><text x="355.30" y="79.13" font-size="6.30" text-anchor="start" fill="#3c3c3c" font-weight="normal">B4GALT1</text><text x="355.30" y="87.56" font-size="6.30" text-anchor="start" fill="#3c3c3c" font-weight="normal">NFE2L2</text><text x="355.30" y="95.99" font-size="6.30" text-anchor="start" fill="#3c3c3c" font-weight="normal">NFKB1</text><text x="355.30" y="104.42" font-size="6.30" text-anchor="start" fill="#3c3c3c" font-weight="normal">ICAM1</text><text x="355.30" y="112.85" font-size="6.30" text-anchor="start" fill="#3c3c3c" font-weight="normal">MYADM</text><text x="355.30" y="121.28" font-size="6.30" text-anchor="start" fill="#3c3c3c" font-weight="normal">TJP2</text><text x="355.30" y="129.71" font-size="6.30" text-anchor="start" fill="#3c3c3c" font-weight="normal">TNIP1</text><text x="355.30" y="138.14" font-size="6.30" text-anchor="start" fill="#3c3c3c" font-weight="normal">SMAD3</text><text x="355.30" y="146.57" font-size="6.30" text-anchor="start" fill="#3c3c3c" font-weight="normal">SPAG9</text><text x="355.30" y="155.00" font-size="6.30" text-anchor="start" fill="#3c3c3c" font-weight="normal">TAP1</text><text x="355.30" y="163.43" font-size="6.30" text-anchor="start" fill="#3c3c3c" font-weight="normal">ALDH1A2</text><text x="355.30" y="171.86" font-size="6.30" text-anchor="start" fill="#3c3c3c" font-weight="normal">MAP2K3</text><text x="355.30" y="180.29" font-size="6.30" text-anchor="start" fill="#3c3c3c" font-weight="normal">SNAI1</text><text x="355.30" y="188.72" font-size="6.30" text-anchor="start" fill="#3c3c3c" font-weight="normal">IL6</text><text x="355.30" y="197.15" font-size="6.30" text-anchor="start" fill="#3c3c3c" font-weight="normal">RELB</text><text x="355.30" y="205.58" font-size="6.30" text-anchor="start" fill="#3c3c3c" font-weight="normal">VEGFC</text><text x="355.30" y="214.01" font-size="6.30" text-anchor="start" fill="#3c3c3c" font-weight="normal">STAT5A</text><text x="355.30" y="222.44" font-size="6.30" text-anchor="start" fill="#3c3c3c" font-weight="normal">TNFAIP2</text><text x="355.30" y="230.87" font-size="6.30" text-anchor="start" fill="#3c3c3c" font-weight="normal">ADAMST1</text><text x="355.30" y="239.30" font-size="6.30" text-anchor="start" fill="#3c3c3c" font-weight="normal">IL18R1</text><text x="355.30" y="247.73" font-size="6.30" text-anchor="start" fill="#3c3c3c" font-weight="normal">SBNO2</text><text x="355.30" y="256.16" font-size="6.30" text-anchor="start" fill="#3c3c3c" font-weight="normal">ADCY6</text><text x="355.30" y="264.59" font-size="6.30" text-anchor="start" fill="#3c3c3c" font-weight="normal">SLC12A7</text><text x="355.30" y="273.02" font-size="6.30" text-anchor="start" fill="#3c3c3c" font-weight="normal">NFKB2</text><text x="355.30" y="281.45" font-size="6.30" text-anchor="start" fill="#3c3c3c" font-weight="normal">ADAMST9</text><text x="355.30" y="289.88" font-size="6.30" text-anchor="start" fill="#3c3c3c" font-weight="normal">NOS3</text><text x="355.30" y="298.31" font-size="6.30" text-anchor="start" fill="#3c3c3c" font-weight="normal">C10orf54</text><text x="178.00" y="317.75" font-size="6.57" text-anchor="start" fill="#3c3c3c" font-weight="normal">Hemolysate</text><text x="271.20" y="317.75" font-size="6.50" text-anchor="start" fill="#3c3c3c" font-weight="normal" textLength="70.3" lengthAdjust="spacingAndGlyphs">Hemolysate+CORM-401</text><defs><linearGradient id="cb" x1="0" y1="151" x2="0" y2="184.6" gradientUnits="userSpaceOnUse"><stop offset="0.000" stop-color="#d41010"/><stop offset="0.298" stop-color="#e21a14"/><stop offset="0.387" stop-color="#ea5030"/><stop offset="0.476" stop-color="#f4a090"/><stop offset="0.551" stop-color="#f8e8e8"/><stop offset="0.625" stop-color="#f0ecf6"/><stop offset="0.714" stop-color="#8c88cc"/><stop offset="0.804" stop-color="#4a40a8"/><stop offset="1.000" stop-color="#1c1c84"/></linearGradient></defs><rect x="396.2" y="151" width="5.7" height="33.6" fill="url(#cb)"/><text x="396.00" y="146.00" font-size="6.80" text-anchor="start" fill="#3c3c3c" font-weight="normal">matrix</text><text x="405.60" y="154.15" font-size="6.80" text-anchor="start" fill="#3c3c3c" font-weight="normal">15</text><text x="405.60" y="164.45" font-size="6.80" text-anchor="start" fill="#3c3c3c" font-weight="normal">10</text><text x="405.60" y="174.95" font-size="6.80" text-anchor="start" fill="#3c3c3c" font-weight="normal">5</text><text x="405.60" y="184.75" font-size="6.80" text-anchor="start" fill="#3c3c3c" font-weight="normal">0</text><path d="M106.40 32.20L106.40 205.00M106.40 32.20L120.20 32.20M106.40 205.00L111.40 205.00M120.20 26.20L120.20 40.60M120.20 26.20L128.20 26.20M120.20 40.60L122.50 40.60M122.50 34.02L122.50 46.60M122.50 34.02L128.20 34.02M122.50 46.60L124.80 46.60M124.80 42.45L124.80 50.88M124.80 42.45L128.20 42.45M124.80 50.88L128.20 50.88M111.40 141.80L111.40 270.20M111.40 141.80L121.60 141.80M121.60 97.30L121.60 185.75M121.60 185.75L128.20 185.75M117.40 97.30L121.60 97.30M117.40 72.80L117.40 121.80M117.40 72.80L120.60 72.80M120.60 63.50L120.60 82.50M120.60 63.50L125.60 63.50M125.60 59.30L125.60 67.73M125.60 59.30L128.20 59.30M125.60 67.73L128.20 67.73M120.60 82.50L124.80 82.50M124.80 76.16L124.80 88.80M124.80 76.16L128.20 76.16M124.80 88.80L125.40 88.80M125.40 84.59L125.40 93.03M125.40 84.59L128.20 84.59M125.40 93.03L128.20 93.03M117.40 121.80L120.50 121.80M120.50 112.00L120.50 139.40M120.50 112.00L122.20 112.00M122.20 101.45L122.20 122.00M122.20 101.45L128.20 101.45M122.20 122.00L124.20 122.00M124.20 109.88L124.20 129.00M124.20 109.88L128.20 109.88M124.20 129.00L125.30 129.00M125.30 122.50L125.30 135.18M125.30 135.18L128.20 135.18M125.30 122.50L126.40 122.50M126.40 118.31L126.40 126.75M126.40 118.31L128.20 118.31M126.40 126.75L128.20 126.75M120.50 139.40L122.40 139.40M122.40 133.00L122.40 160.00M122.40 160.00L123.90 160.00M123.90 150.00L123.90 177.33M123.90 177.33L128.20 177.33M123.90 150.00L125.00 150.00M125.00 147.80L125.00 164.70M125.00 147.80L126.20 147.80M126.20 143.61L126.20 152.03M126.20 143.61L128.20 143.61M126.20 152.03L128.20 152.03M125.00 164.70L126.60 164.70M126.60 160.47L126.60 168.90M126.60 160.47L128.20 160.47M126.60 168.90L128.20 168.90M122.40 133.00L123.20 133.00M111.40 270.20L117.50 270.20M117.50 244.30L117.50 295.35M117.50 295.35L128.20 295.35M117.50 244.30L119.70 244.30M119.70 213.00L119.70 263.00M119.70 213.00L122.80 213.00M122.80 200.80L122.80 225.70M122.80 200.80L124.30 200.80M124.30 194.19L124.30 206.90M124.30 194.19L128.20 194.19M124.30 206.90L125.60 206.90M125.60 202.62L125.60 211.05M125.60 202.62L128.20 202.62M125.60 211.05L128.20 211.05M122.80 225.70L124.30 225.70M124.30 219.47L124.30 232.10M124.30 219.47L128.20 219.47M124.30 232.10L125.60 232.10M125.60 227.91L125.60 236.34M125.60 227.91L128.20 227.91M125.60 236.34L128.20 236.34M119.70 263.00L121.20 263.00M121.20 255.00L121.20 286.91M121.20 286.91L128.20 286.91M121.20 255.00L122.20 255.00M122.20 251.00L122.20 274.30M122.20 251.00L123.80 251.00M123.80 244.77L123.80 257.40M123.80 244.77L128.20 244.77M123.80 257.40L125.20 257.40M125.20 253.19L125.20 261.62M125.20 253.19L128.20 253.19M125.20 261.62L128.20 261.62M122.20 274.30L124.50 274.30M124.50 270.05L124.50 278.49M124.50 270.05L128.20 270.05M124.50 278.49L128.20 278.49" stroke="#4a4a4a" stroke-width="0.6" fill="none" stroke-linecap="square"/><text x="94.00" y="16.70" font-size="12.40" text-anchor="start" fill="#000" font-weight="bold">A</text><text x="7.40" y="338.00" font-size="11.00" text-anchor="start" fill="#000" font-weight="bold">B</text><polygon points="125.60,442.77 129.04,443.41 132.02,445.25 134.13,448.05 135.09,451.42 134.77,454.91 133.21,458.05 130.62,460.41 127.35,461.67 123.85,461.67 120.58,460.41 117.99,458.05 116.43,454.91 116.11,451.42 117.07,448.05 119.18,445.25 122.16,443.41" fill="none" stroke="#c0c0c0" stroke-width="0.8"/><polygon points="125.60,433.23 132.49,434.52 138.45,438.21 142.67,443.80 144.59,450.54 143.94,457.52 140.82,463.79 135.64,468.51 129.10,471.04 122.10,471.04 115.56,468.51 110.38,463.79 107.26,457.52 106.61,450.54 108.53,443.80 112.75,438.21 118.71,434.52" fill="none" stroke="#c0c0c0" stroke-width="0.8"/><polygon points="125.60,423.70 135.93,425.63 144.87,431.16 151.20,439.55 154.08,449.66 153.11,460.13 148.42,469.54 140.66,476.62 130.86,480.41 120.34,480.41 110.54,476.62 102.78,469.54 98.09,460.13 97.12,449.66 100.00,439.55 106.33,431.16 115.27,425.63" fill="none" stroke="#c0c0c0" stroke-width="0.8"/><polygon points="125.60,414.17 139.38,416.74 151.29,424.12 159.74,435.30 163.57,448.78 162.28,462.74 156.03,475.28 145.67,484.72 132.61,489.78 118.59,489.78 105.53,484.72 95.17,475.28 88.92,462.74 87.63,448.78 91.46,435.30 99.91,424.12 111.82,416.74" fill="none" stroke="#c0c0c0" stroke-width="0.8"/><polygon points="125.60,404.63 142.82,407.85 157.71,417.07 168.27,431.05 173.06,447.90 171.45,465.34 163.64,481.03 150.69,492.83 134.36,499.16 116.84,499.16 100.51,492.83 87.56,481.03 79.75,465.34 78.14,447.90 82.93,431.05 93.49,417.07 108.38,407.85" fill="none" stroke="#c0c0c0" stroke-width="0.8"/><polygon points="125.60,395.10 146.26,398.96 164.14,410.03 176.80,426.80 182.56,447.02 180.62,467.95 171.25,486.77 155.71,500.93 136.11,508.53 115.09,508.53 95.49,500.93 79.95,486.77 70.58,467.95 68.64,447.02 74.40,426.80 87.06,410.03 104.94,398.96" fill="none" stroke="#c0c0c0" stroke-width="0.8"/><polygon points="125.60,385.57 149.71,390.07 170.56,402.98 185.34,422.55 192.05,446.14 189.79,470.56 178.85,492.52 160.73,509.04 137.86,517.90 113.34,517.90 90.47,509.04 72.35,492.52 61.41,470.56 59.15,446.14 65.86,422.55 80.64,402.98 101.49,390.07" fill="none" stroke="#c0c0c0" stroke-width="0.8"/><polygon points="125.60,376.03 153.15,381.18 176.98,395.94 193.87,418.31 201.54,445.26 198.96,473.17 186.46,498.26 165.75,517.14 139.61,527.27 111.59,527.27 85.45,517.14 64.74,498.26 52.24,473.17 49.66,445.26 57.33,418.31 74.22,395.94 98.05,381.18" fill="none" stroke="#c0c0c0" stroke-width="0.8"/><polygon points="125.60,366.50 156.59,372.29 183.40,388.89 202.41,414.06 211.03,444.38 208.12,475.78 194.07,504.01 170.77,525.25 141.37,536.64 109.83,536.64 80.43,525.25 57.13,504.01 43.08,475.78 40.17,444.38 48.79,414.06 67.80,388.89 94.61,372.29" fill="none" stroke="#c0c0c0" stroke-width="0.8"/><path d="M125.60 452.30L125.60 366.50M125.60 452.30L156.59 372.29M125.60 452.30L183.40 388.89M125.60 452.30L202.41 414.06M125.60 452.30L211.03 444.38M125.60 452.30L208.12 475.78M125.60 452.30L194.07 504.01M125.60 452.30L170.77 525.25M125.60 452.30L141.37 536.64M125.60 452.30L109.83 536.64M125.60 452.30L80.43 525.25M125.60 452.30L57.13 504.01M125.60 452.30L43.08 475.78M125.60 452.30L40.17 444.38M125.60 452.30L48.79 414.06M125.60 452.30L67.80 388.89M125.60 452.30L94.61 372.29" stroke="#c0c0c0" stroke-width="0.8" fill="none"/><circle cx="125.60" cy="452.30" r="4.2" fill="#d2d2d2" opacity="0.8"/><text x="123.10" y="376.53" font-size="7.00" text-anchor="end" fill="#a03048" font-weight="normal">2.0</text><path d="M123.40 376.03L125.60 376.03" stroke="#a03048" stroke-width="0.5"/><text x="123.10" y="395.60" font-size="7.00" text-anchor="end" fill="#a03048" font-weight="normal">0.0</text><path d="M123.40 395.10L125.60 395.10" stroke="#a03048" stroke-width="0.5"/><text x="123.10" y="414.67" font-size="7.00" text-anchor="end" fill="#a03048" font-weight="normal">-2.0</text><path d="M123.40 414.17L125.60 414.17" stroke="#a03048" stroke-width="0.5"/><text x="101.40" y="352.00" font-size="6.80" text-anchor="start" fill="#3c3c3c" font-weight="normal" textLength="37.6" lengthAdjust="spacingAndGlyphs">Acute Phase</text><text x="101.40" y="360.20" font-size="6.80" text-anchor="start" fill="#3c3c3c" font-weight="normal" textLength="55.5" lengthAdjust="spacingAndGlyphs">Reponse Signaling</text><text x="158.00" y="367.70" font-size="6.80" text-anchor="start" fill="#3c3c3c" font-weight="normal">Apoptosis Signaling</text><text x="190.70" y="384.00" font-size="6.80" text-anchor="start" fill="#3c3c3c" font-weight="normal">Angiopoietin</text><text x="190.70" y="392.20" font-size="6.80" text-anchor="start" fill="#3c3c3c" font-weight="normal">signaling</text><text x="208.30" y="412.40" font-size="6.80" text-anchor="start" fill="#3c3c3c" font-weight="normal">Dead Receptor</text><text x="208.30" y="420.60" font-size="6.80" text-anchor="start" fill="#3c3c3c" font-weight="normal">Signaling</text><text x="216.80" y="443.30" font-size="6.80" text-anchor="start" fill="#3c3c3c" font-weight="normal">Production of</text><text x="216.80" y="451.40" font-size="6.80" text-anchor="start" fill="#3c3c3c" font-weight="normal">NO and ROS</text><text x="213.90" y="477.00" font-size="6.80" text-anchor="start" fill="#3c3c3c" font-weight="normal">Endothelin-1</text><text x="213.90" y="484.90" font-size="6.80" text-anchor="start" fill="#3c3c3c" font-weight="normal">signaling</text><text x="199.70" y="507.20" font-size="6.80" text-anchor="start" fill="#3c3c3c" font-weight="normal" textLength="11.6" lengthAdjust="spacingAndGlyphs">TLR</text><text x="199.70" y="515.50" font-size="6.80" text-anchor="start" fill="#3c3c3c" font-weight="normal">signaling</text><text x="172.90" y="532.80" font-size="6.80" text-anchor="start" fill="#3c3c3c" font-weight="normal">NF-kB</text><text x="172.90" y="540.70" font-size="6.80" text-anchor="start" fill="#3c3c3c" font-weight="normal">signaling</text><text x="136.90" y="546.10" font-size="6.80" text-anchor="start" fill="#3c3c3c" font-weight="normal">IL-8</text><text x="136.90" y="553.80" font-size="6.80" text-anchor="start" fill="#3c3c3c" font-weight="normal">signaling</text><text x="113.80" y="547.00" font-size="6.80" text-anchor="end" fill="#3c3c3c" font-weight="normal">Role of</text><text x="113.80" y="554.70" font-size="6.80" text-anchor="end" fill="#3c3c3c" font-weight="normal">NFAT</text><text x="80.60" y="533.20" font-size="6.80" text-anchor="end" fill="#3c3c3c" font-weight="normal">Il-6</text><text x="80.60" y="541.40" font-size="6.80" text-anchor="end" fill="#3c3c3c" font-weight="normal">Signaling</text><text x="52.00" y="510.70" font-size="6.80" text-anchor="end" fill="#3c3c3c" font-weight="normal" textLength="23.6" lengthAdjust="spacingAndGlyphs">HMGB1</text><text x="52.00" y="519.30" font-size="6.80" text-anchor="end" fill="#3c3c3c" font-weight="normal">Signaling</text><text x="38.50" y="478.70" font-size="6.80" text-anchor="end" fill="#3c3c3c" font-weight="normal" textLength="9.8" lengthAdjust="spacingAndGlyphs">ILK</text><text x="38.50" y="487.00" font-size="6.80" text-anchor="end" fill="#3c3c3c" font-weight="normal">Signaling</text><text x="35.00" y="444.20" font-size="6.80" text-anchor="end" fill="#3c3c3c" font-weight="normal">Il-1</text><text x="35.00" y="453.00" font-size="6.80" text-anchor="end" fill="#3c3c3c" font-weight="normal">Signaling</text><text x="43.60" y="409.60" font-size="6.80" text-anchor="end" fill="#3c3c3c" font-weight="normal" textLength="21.6" lengthAdjust="spacingAndGlyphs">TREM1</text><text x="43.60" y="418.20" font-size="6.80" text-anchor="end" fill="#3c3c3c" font-weight="normal">Signaling</text><text x="64.20" y="380.70" font-size="6.80" text-anchor="end" fill="#3c3c3c" font-weight="normal">Apelin Endothelial</text><text x="64.20" y="388.80" font-size="6.80" text-anchor="end" fill="#3c3c3c" font-weight="normal">Signaling Pathway</text><text x="90.60" y="362.20" font-size="6.80" text-anchor="end" fill="#3c3c3c" font-weight="normal" textLength="24.0" lengthAdjust="spacingAndGlyphs">Jak/Stat</text><text x="90.60" y="369.30" font-size="6.80" text-anchor="end" fill="#3c3c3c" font-weight="normal">Signaling</text><polygon points="380.90,442.77 384.34,443.41 387.32,445.25 389.43,448.05 390.39,451.42 390.07,454.91 388.51,458.05 385.92,460.41 382.65,461.67 379.15,461.67 375.88,460.41 373.29,458.05 371.73,454.91 371.41,451.42 372.37,448.05 374.48,445.25 377.46,443.41" fill="none" stroke="#c0c0c0" stroke-width="0.8"/><polygon points="380.90,433.23 387.79,434.52 393.75,438.21 397.97,443.80 399.89,450.54 399.24,457.52 396.12,463.79 390.94,468.51 384.40,471.04 377.40,471.04 370.86,468.51 365.68,463.79 362.56,457.52 361.91,450.54 363.83,443.80 368.05,438.21 374.01,434.52" fill="none" stroke="#c0c0c0" stroke-width="0.8"/><polygon points="380.90,423.70 391.23,425.63 400.17,431.16 406.50,439.55 409.38,449.66 408.41,460.13 403.72,469.54 395.96,476.62 386.16,480.41 375.64,480.41 365.84,476.62 358.08,469.54 353.39,460.13 352.42,449.66 355.30,439.55 361.63,431.16 370.57,425.63" fill="none" stroke="#c0c0c0" stroke-width="0.8"/><polygon points="380.90,414.17 394.68,416.74 406.59,424.12 415.04,435.30 418.87,448.78 417.58,462.74 411.33,475.28 400.97,484.72 387.91,489.78 373.89,489.78 360.83,484.72 350.47,475.28 344.22,462.74 342.93,448.78 346.76,435.30 355.21,424.12 367.12,416.74" fill="none" stroke="#c0c0c0" stroke-width="0.8"/><polygon points="380.90,404.63 398.12,407.85 413.01,417.07 423.57,431.05 428.36,447.90 426.75,465.34 418.94,481.03 405.99,492.83 389.66,499.16 372.14,499.16 355.81,492.83 342.86,481.03 335.05,465.34 333.44,447.90 338.23,431.05 348.79,417.07 363.68,407.85" fill="none" stroke="#c0c0c0" stroke-width="0.8"/><polygon points="380.90,395.10 401.56,398.96 419.44,410.03 432.10,426.80 437.86,447.02 435.92,467.95 426.55,486.77 411.01,500.93 391.41,508.53 370.39,508.53 350.79,500.93 335.25,486.77 325.88,467.95 323.94,447.02 329.70,426.80 342.36,410.03 360.24,398.96" fill="none" stroke="#c0c0c0" stroke-width="0.8"/><polygon points="380.90,385.57 405.01,390.07 425.86,402.98 440.64,422.55 447.35,446.14 445.09,470.56 434.15,492.52 416.03,509.04 393.16,517.90 368.64,517.90 345.77,509.04 327.65,492.52 316.71,470.56 314.45,446.14 321.16,422.55 335.94,402.98 356.79,390.07" fill="none" stroke="#c0c0c0" stroke-width="0.8"/><polygon points="380.90,376.03 408.45,381.18 432.28,395.94 449.17,418.31 456.84,445.26 454.26,473.17 441.76,498.26 421.05,517.14 394.91,527.27 366.89,527.27 340.75,517.14 320.04,498.26 307.54,473.17 304.96,445.26 312.63,418.31 329.52,395.94 353.35,381.18" fill="none" stroke="#c0c0c0" stroke-width="0.8"/><polygon points="380.90,366.50 411.89,372.29 438.70,388.89 457.71,414.06 466.33,444.38 463.42,475.78 449.37,504.01 426.07,525.25 396.67,536.64 365.13,536.64 335.73,525.25 312.43,504.01 298.38,475.78 295.47,444.38 304.09,414.06 323.10,388.89 349.91,372.29" fill="none" stroke="#c0c0c0" stroke-width="0.8"/><path d="M380.90 452.30L380.90 366.50M380.90 452.30L411.89 372.29M380.90 452.30L438.70 388.89M380.90 452.30L457.71 414.06M380.90 452.30L466.33 444.38M380.90 452.30L463.42 475.78M380.90 452.30L449.37 504.01M380.90 452.30L426.07 525.25M380.90 452.30L396.67 536.64M380.90 452.30L365.13 536.64M380.90 452.30L335.73 525.25M380.90 452.30L312.43 504.01M380.90 452.30L298.38 475.78M380.90 452.30L295.47 444.38M380.90 452.30L304.09 414.06M380.90 452.30L323.10 388.89M380.90 452.30L349.91 372.29" stroke="#c0c0c0" stroke-width="0.8" fill="none"/><circle cx="380.90" cy="452.30" r="4.2" fill="#d2d2d2" opacity="0.8"/><text x="377.50" y="376.53" font-size="7.00" text-anchor="end" fill="#52a452" font-weight="normal">2.0</text><path d="M378.70 376.03L380.90 376.03" stroke="#52a452" stroke-width="0.5"/><text x="377.50" y="395.60" font-size="7.00" text-anchor="end" fill="#52a452" font-weight="normal">0.0</text><path d="M378.70 395.10L380.90 395.10" stroke="#52a452" stroke-width="0.5"/><text x="377.50" y="414.67" font-size="7.00" text-anchor="end" fill="#52a452" font-weight="normal">-2.0</text><path d="M378.70 414.17L380.90 414.17" stroke="#52a452" stroke-width="0.5"/><text x="356.60" y="352.00" font-size="6.80" text-anchor="start" fill="#3c3c3c" font-weight="normal" textLength="37.6" lengthAdjust="spacingAndGlyphs">Acute Phase</text><text x="356.60" y="360.20" font-size="6.80" text-anchor="start" fill="#3c3c3c" font-weight="normal" textLength="55.5" lengthAdjust="spacingAndGlyphs">Reponse Signaling</text><text x="413.20" y="367.70" font-size="6.80" text-anchor="start" fill="#3c3c3c" font-weight="normal">Apoptosis Signaling</text><text x="445.90" y="384.00" font-size="6.80" text-anchor="start" fill="#3c3c3c" font-weight="normal">Angiopoietin</text><text x="445.90" y="392.20" font-size="6.80" text-anchor="start" fill="#3c3c3c" font-weight="normal">signaling</text><text x="463.50" y="412.40" font-size="6.80" text-anchor="start" fill="#3c3c3c" font-weight="normal">Dead Receptor</text><text x="463.50" y="420.60" font-size="6.80" text-anchor="start" fill="#3c3c3c" font-weight="normal">Signaling</text><text x="472.00" y="443.30" font-size="6.80" text-anchor="start" fill="#3c3c3c" font-weight="normal">Production of</text><text x="472.00" y="451.40" font-size="6.80" text-anchor="start" fill="#3c3c3c" font-weight="normal">NO and ROS</text><text x="469.10" y="477.00" font-size="6.80" text-anchor="start" fill="#3c3c3c" font-weight="normal">Endothelin-1</text><text x="469.10" y="484.90" font-size="6.80" text-anchor="start" fill="#3c3c3c" font-weight="normal">signaling</text><text x="454.90" y="507.20" font-size="6.80" text-anchor="start" fill="#3c3c3c" font-weight="normal" textLength="11.6" lengthAdjust="spacingAndGlyphs">TLR</text><text x="454.90" y="515.50" font-size="6.80" text-anchor="start" fill="#3c3c3c" font-weight="normal">signaling</text><text x="428.10" y="532.80" font-size="6.80" text-anchor="start" fill="#3c3c3c" font-weight="normal">NF-kB</text><text x="428.10" y="540.70" font-size="6.80" text-anchor="start" fill="#3c3c3c" font-weight="normal">signaling</text><text x="392.10" y="546.10" font-size="6.80" text-anchor="start" fill="#3c3c3c" font-weight="normal">IL-8</text><text x="392.10" y="553.80" font-size="6.80" text-anchor="start" fill="#3c3c3c" font-weight="normal">signaling</text><text x="369.00" y="547.00" font-size="6.80" text-anchor="end" fill="#3c3c3c" font-weight="normal">Role of</text><text x="369.00" y="554.70" font-size="6.80" text-anchor="end" fill="#3c3c3c" font-weight="normal">NFAT</text><text x="335.80" y="533.20" font-size="6.80" text-anchor="end" fill="#3c3c3c" font-weight="normal">Il-6</text><text x="335.80" y="541.40" font-size="6.80" text-anchor="end" fill="#3c3c3c" font-weight="normal">Signaling</text><text x="307.20" y="510.70" font-size="6.80" text-anchor="end" fill="#3c3c3c" font-weight="normal" textLength="23.6" lengthAdjust="spacingAndGlyphs">HMGB1</text><text x="307.20" y="519.30" font-size="6.80" text-anchor="end" fill="#3c3c3c" font-weight="normal">Signaling</text><text x="293.70" y="478.70" font-size="6.80" text-anchor="end" fill="#3c3c3c" font-weight="normal" textLength="9.8" lengthAdjust="spacingAndGlyphs">ILK</text><text x="293.70" y="487.00" font-size="6.80" text-anchor="end" fill="#3c3c3c" font-weight="normal">Signaling</text><text x="290.20" y="444.20" font-size="6.80" text-anchor="end" fill="#3c3c3c" font-weight="normal">Il-1</text><text x="290.20" y="453.00" font-size="6.80" text-anchor="end" fill="#3c3c3c" font-weight="normal">Signaling</text><text x="298.80" y="409.60" font-size="6.80" text-anchor="end" fill="#3c3c3c" font-weight="normal" textLength="21.6" lengthAdjust="spacingAndGlyphs">TREM1</text><text x="298.80" y="418.20" font-size="6.80" text-anchor="end" fill="#3c3c3c" font-weight="normal">Signaling</text><text x="319.40" y="380.70" font-size="6.80" text-anchor="end" fill="#3c3c3c" font-weight="normal">Apelin Endothelial</text><text x="319.40" y="388.80" font-size="6.80" text-anchor="end" fill="#3c3c3c" font-weight="normal">Signaling Pathway</text><text x="345.80" y="362.20" font-size="6.80" text-anchor="end" fill="#3c3c3c" font-weight="normal" textLength="24.0" lengthAdjust="spacingAndGlyphs">Jak/Stat</text><text x="345.80" y="369.30" font-size="6.80" text-anchor="end" fill="#3c3c3c" font-weight="normal">Signaling</text><polygon points="125.80,378.90 146.60,397.70 171.40,401.50 177.40,425.90 183.10,446.20 181.20,467.80 171.70,486.90 161.30,510.00 140.60,533.90 113.60,518.70 87.50,514.20 56.90,503.60 51.80,472.90 43.85,444.06 55.90,418.00 73.40,394.90 100.80,386.20" fill="none" stroke="#f6dde3" stroke-width="0.4"/><circle cx="125.80" cy="378.90" r="1.1" fill="#7a1830"/><circle cx="146.60" cy="397.70" r="1.1" fill="#7a1830"/><circle cx="171.40" cy="401.50" r="1.1" fill="#7a1830"/><circle cx="177.40" cy="425.90" r="1.1" fill="#7a1830"/><circle cx="183.10" cy="446.20" r="1.1" fill="#7a1830"/><circle cx="181.20" cy="467.80" r="1.1" fill="#7a1830"/><circle cx="171.70" cy="486.90" r="1.1" fill="#7a1830"/><circle cx="161.30" cy="510.00" r="1.1" fill="#7a1830"/><circle cx="140.60" cy="533.90" r="2.9" fill="#bf0d2e"/><circle cx="113.60" cy="518.70" r="1.1" fill="#7a1830"/><circle cx="87.50" cy="514.20" r="1.1" fill="#7a1830"/><circle cx="56.90" cy="503.60" r="2.9" fill="#bf0d2e"/><circle cx="51.80" cy="472.90" r="2.9" fill="#bf0d2e"/><circle cx="43.85" cy="444.06" r="2.9" fill="#bf0d2e"/><circle cx="55.90" cy="418.00" r="2.9" fill="#bf0d2e"/><circle cx="73.40" cy="394.90" r="2.9" fill="#bf0d2e"/><circle cx="100.80" cy="386.20" r="1.1" fill="#7a1830"/><polygon points="381.3,436.7 405.6,388.3 404.6,426.6 399.4,442.5 394.8,450.6 403.7,458.9 403.7,468.1 382.1,450.9 381.0,452.0 380.1,455.2 374.8,462.7 369.4,461.0 366.5,456.3 365.6,450.2 366.5,444.2 367.5,437.9 372.3,432.9" fill="none" stroke="#f6e0e8" stroke-width="0.5"/><rect x="369.90" y="430.50" width="4.80" height="4.80" fill="#2f9c3a"/><rect x="378.90" y="434.30" width="4.80" height="4.80" fill="#2f9c3a"/><rect x="365.10" y="435.50" width="4.80" height="4.80" fill="#2f9c3a"/><rect x="364.10" y="441.80" width="4.80" height="4.80" fill="#2f9c3a"/><rect x="363.20" y="447.80" width="4.80" height="4.80" fill="#2f9c3a"/><rect x="364.10" y="453.90" width="4.80" height="4.80" fill="#2f9c3a"/><rect x="367.00" y="458.60" width="4.80" height="4.80" fill="#2f9c3a"/><rect x="372.40" y="460.30" width="4.80" height="4.80" fill="#2f9c3a"/><rect x="379.70" y="448.50" width="4.80" height="4.80" fill="#2f9c3a"/><rect x="377.70" y="452.80" width="4.80" height="4.80" fill="#2f9c3a"/><rect x="392.40" y="448.20" width="4.80" height="4.80" fill="#2f9c3a"/><rect x="397.00" y="440.10" width="4.80" height="4.80" fill="#2f9c3a"/><rect x="402.20" y="424.20" width="4.80" height="4.80" fill="#2f9c3a"/><rect x="401.30" y="456.50" width="4.80" height="4.80" fill="#2f9c3a"/><rect x="401.30" y="465.70" width="4.80" height="4.80" fill="#2f9c3a"/><circle cx="405.6" cy="388.3" r="0.8" fill="#3a5a3a"/><circle cx="88.8" cy="565.4" r="2.5" fill="#bf0d2e"/><text x="94.30" y="567.75" font-size="6.56" text-anchor="start" fill="#3c3c3c" font-weight="normal">Hemolysate vs serum only</text><text x="178.80" y="580.35" font-size="6.56" text-anchor="start" fill="#3c3c3c" font-weight="normal" textLength="100.2" lengthAdjust="spacingAndGlyphs">Main canonical pathways (Z-score)</text><rect x="291.2" y="563.0" width="4.7" height="4.7" fill="#2f9c3a"/><text x="298.20" y="567.65" font-size="6.70" text-anchor="start" fill="#3c3c3c" font-weight="normal" textLength="166.3" lengthAdjust="spacingAndGlyphs">Hemolysate+CORM-401 treatment vs hemolysate alone</text></svg></div></body></html>
